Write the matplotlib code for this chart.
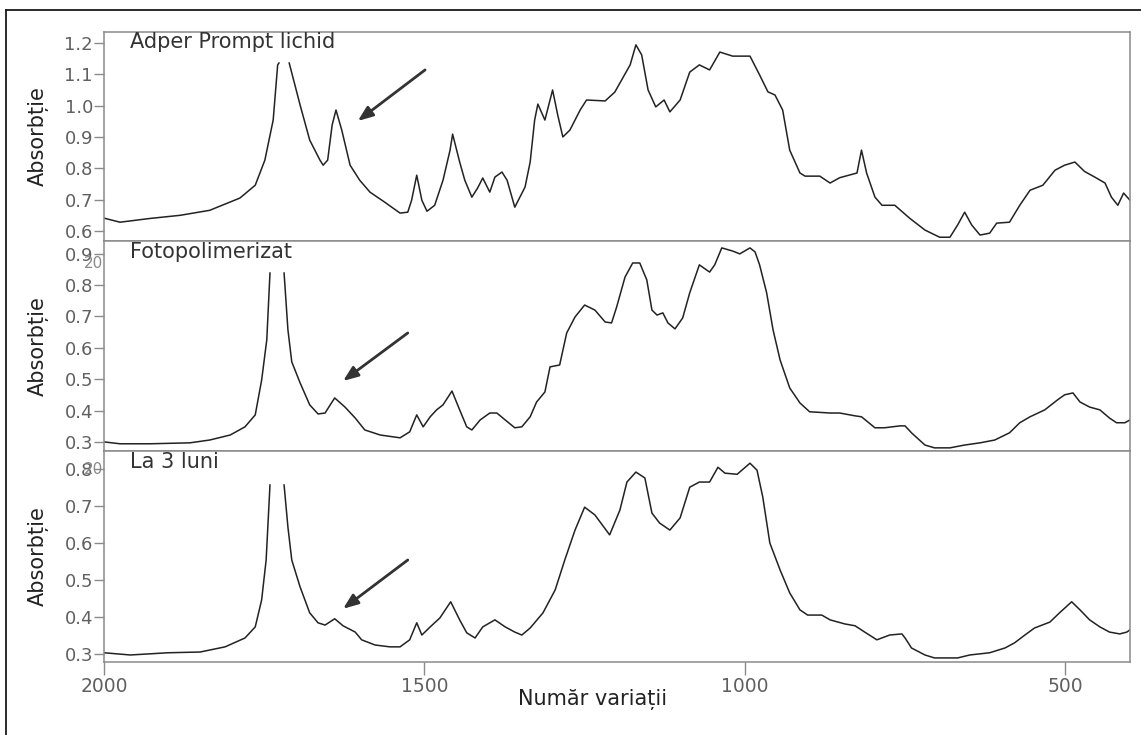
"""
Spectre FTIR Adper Prompt - trei panouri suprapuse, axa x inversata.
"""
import matplotlib
matplotlib.use("Agg")
import matplotlib.pyplot as plt
import numpy as np
from matplotlib.lines import Line2D

LINE_COL  = "#222222"
SPINE_COL = "#8a8a8a"
TICK_COL  = "#606060"

nan = np.nan

# --- Adper Prompt lichid -------------------------------------------------
lichid_wn = [2000, 1975, 1928, 1881, 1835, 1788, 1764, 1749, 1736, 1729, 1727, 1719, 1711,
             1694, 1679, 1663, 1658, 1651, 1644, 1638, 1629, 1616, 1601, 1585, 1562,
             1538, 1526, 1520, 1512, 1504, 1496, 1484, 1471, 1460, 1456, 1445, 1437,
             1426, 1417, 1409, 1398, 1390, 1379, 1371, 1359, 1343, 1335, 1328, 1323,
             1312, 1304, 1300, 1292, 1284, 1273, 1257, 1247, 1218, 1203, 1179, 1170,
             1161, 1151, 1139, 1126, 1117, 1101, 1086, 1071, 1055, 1039, 1019, 992,
             977, 964, 953, 941, 930, 914, 906, 883, 867, 852, 825, 818, 810, 797,
             786, 766, 743, 719, 696, 680, 668, 657, 646, 633, 618, 607, 587, 571,
             555, 535, 516, 501, 485, 470, 454, 438, 428, 418, 409, 399]
lichid_abs = [0.641, 0.628, 0.640, 0.650, 0.666, 0.705, 0.746, 0.826, 0.954, 1.130, 1.136, nan, 1.136,
              1.002, 0.890, 0.826, 0.810, 0.826, 0.938, 0.986, 0.922, 0.810, 0.762, 0.724, 0.692,
              0.657, 0.660, 0.698, 0.778, 0.698, 0.663, 0.682, 0.762, 0.858, 0.909, 0.820, 0.762,
              0.708, 0.737, 0.769, 0.724, 0.772, 0.788, 0.762, 0.676, 0.740, 0.820, 0.954, 1.005,
              0.954, 1.018, 1.050, 0.970, 0.900, 0.922, 0.986, 1.018, 1.015, 1.043, 1.130, 1.194,
              1.162, 1.050, 0.996, 1.018, 0.980, 1.018, 1.107, 1.130, 1.114, 1.171, 1.158, 1.158,
              1.098, 1.044, 1.034, 0.986, 0.858, 0.785, 0.775, 0.775, 0.753, 0.770, 0.785, 0.858, 0.785, 0.708,
              0.682, 0.682, 0.641, 0.603, 0.580, 0.580, 0.619, 0.660, 0.619, 0.587, 0.593, 0.625, 0.628, 0.682,
              0.730, 0.746, 0.794, 0.810, 0.820, 0.790, 0.772, 0.753, 0.708, 0.682, 0.721, 0.698]

# --- Fotopolimerizat -----------------------------------------------------
foto_wn = [2000, 1975, 1928, 1866, 1835, 1803, 1780, 1764, 1754, 1746, 1741, 1730, 1719,
           1713, 1707, 1694, 1679, 1666, 1655, 1647, 1640, 1624, 1608, 1593, 1569, 1538,
           1523, 1512, 1502, 1491, 1481, 1471, 1457, 1445, 1434, 1426, 1413, 1398, 1387,
           1374, 1359, 1348, 1335, 1325, 1312, 1304, 1289, 1278, 1265, 1250, 1234, 1218,
           1208, 1200, 1187, 1175, 1164, 1153, 1145, 1137, 1128, 1120, 1109, 1097, 1086,
           1071, 1055, 1047, 1036, 1019, 1008, 992, 984, 977, 966, 956, 945, 930, 914,
           899, 867, 852, 828, 818, 797, 782, 758, 750, 740, 719, 704, 680, 657, 633,
           610, 587, 571, 555, 532, 512, 501, 488, 477, 462, 446, 431, 420, 407, 399]
foto_abs = [0.300, 0.294, 0.294, 0.297, 0.306, 0.322, 0.348, 0.386, 0.497, 0.625, 0.838, nan, 0.838,
            0.657, 0.555, 0.488, 0.418, 0.389, 0.392, 0.418, 0.440, 0.411, 0.376, 0.338, 0.322, 0.313,
            0.332, 0.386, 0.348, 0.380, 0.402, 0.418, 0.462, 0.402, 0.348, 0.338, 0.370, 0.392, 0.392,
            0.370, 0.345, 0.348, 0.380, 0.427, 0.459, 0.539, 0.545, 0.647, 0.698, 0.736, 0.720, 0.682,
            0.679, 0.730, 0.825, 0.870, 0.870, 0.816, 0.720, 0.704, 0.711, 0.679, 0.660, 0.695, 0.775,
            0.864, 0.841, 0.864, 0.918, 0.908, 0.899, 0.918, 0.905, 0.864, 0.775, 0.657, 0.561, 0.472, 0.424,
            0.396, 0.392, 0.392, 0.383, 0.380, 0.345, 0.345, 0.351, 0.351, 0.329, 0.290, 0.281, 0.281, 0.290, 0.297,
            0.306, 0.329, 0.361, 0.380, 0.402, 0.434, 0.450, 0.456, 0.427, 0.411, 0.402, 0.376, 0.361, 0.361, 0.370]

# --- La 3 luni -----------------------------------------------------------
luni_wn = [2000, 1959, 1900, 1850, 1811, 1780, 1764, 1754, 1747, 1741, 1730, 1719,
           1713, 1707, 1694, 1679, 1666, 1655, 1640, 1627, 1608, 1598, 1577, 1554, 1538,
           1523, 1512, 1504, 1491, 1476, 1459, 1445, 1434, 1421, 1409, 1390, 1374, 1359,
           1348, 1335, 1315, 1296, 1281, 1265, 1250, 1234, 1211, 1195, 1184, 1170, 1156,
           1145, 1133, 1117, 1101, 1086, 1071, 1055, 1042, 1031, 1012, 992, 981, 972,
           961, 945, 930, 914, 902, 880, 867, 844, 828, 813, 794, 774, 755, 750, 740,
           719, 704, 668, 649, 618, 594, 579, 563, 548, 524, 509, 490, 477, 462, 446,
           431, 415, 404, 399]
luni_abs = [0.303, 0.297, 0.303, 0.305, 0.319, 0.343, 0.373, 0.446, 0.554, 0.757, nan, 0.757,
            0.643, 0.554, 0.481, 0.411, 0.384, 0.378, 0.395, 0.376, 0.359, 0.338, 0.324, 0.319, 0.319,
            0.338, 0.384, 0.351, 0.373, 0.397, 0.441, 0.392, 0.357, 0.343, 0.373, 0.392, 0.373, 0.359,
            0.351, 0.370, 0.411, 0.473, 0.554, 0.635, 0.697, 0.676, 0.622, 0.689, 0.765, 0.792, 0.776,
            0.681, 0.654, 0.635, 0.668, 0.751, 0.765, 0.765, 0.805, 0.789, 0.786, 0.816, 0.797, 0.724,
            0.600, 0.527, 0.465, 0.419, 0.405, 0.405, 0.392, 0.381, 0.376, 0.359, 0.338, 0.351, 0.354, 0.343, 0.316,
            0.297, 0.289, 0.289, 0.297, 0.303, 0.316, 0.330, 0.351, 0.370, 0.386, 0.411, 0.441, 0.419, 0.392, 0.373,
            0.359, 0.354, 0.359, 0.365]

titles  = ["Adper Prompt lichid", "Fotopolimerizat", "La 3 luni"]
series  = [(lichid_wn, lichid_abs), (foto_wn, foto_abs), (luni_wn, luni_abs)]
ylims   = [(0.568, 1.235), (0.271, 0.940), (0.278, 0.849)]
yticks  = [[0.6, 0.7, 0.8, 0.9, 1.0, 1.1, 1.2],
           [0.3, 0.4, 0.5, 0.6, 0.7, 0.8, 0.9],
           [0.3, 0.4, 0.5, 0.6, 0.7, 0.8]]
xticks  = [2000, 1500, 1000, 500]
# sagetile: (varf, coada) in coordonate de date
arrows  = [((1604, 0.951), (1499, 1.114)),
           ((1627, 0.494), (1526, 0.647)),
           ((1627, 0.422), (1526, 0.554))]

W, H = 1141, 735
fig = plt.figure(figsize=(W / 100, H / 100), dpi=100, facecolor="white")

# rama exterioara (doar stanga si sus sunt vizibile)
fig.add_artist(Line2D([6 / W, 6 / W], [0, 1 - 10 / H], color="#1a1a1a", lw=1.3))
fig.add_artist(Line2D([6 / W, 1], [1 - 10 / H, 1 - 10 / H], color="#1a1a1a", lw=1.3))

left, right = 104 / W, 1130 / W
bounds = [(32, 241), (241, 451), (451, 662)]

axes = []
for i, (top_px, bot_px) in enumerate(bounds):
    ax = fig.add_axes([left, 1 - bot_px / H, right - left, (bot_px - top_px) / H])
    wn, ab = series[i]
    ax.plot(wn, ab, color=LINE_COL, lw=1.1, solid_joinstyle="round")
    ax.set_xlim(2000, 399)
    ax.set_ylim(*ylims[i])
    ax.set_yticks(yticks[i])
    ax.set_yticklabels([f"{t:.1f}" for t in yticks[i]])
    ax.tick_params(axis="y", direction="out", length=7, width=1, color=SPINE_COL,
                   labelcolor=TICK_COL, labelsize=13, pad=1)
    for sp in ax.spines.values():
        sp.set_color(SPINE_COL)
        sp.set_linewidth(1.1)
    if i < 2:
        ax.set_xticks([])
    else:
        ax.set_xticks(xticks)
        ax.set_xticklabels([str(t) for t in xticks])
        ax.tick_params(axis="x", direction="out", length=9, width=1, color=SPINE_COL,
                       labelcolor=TICK_COL, labelsize=13.5, pad=2)
    ax.set_ylabel("Absorbție", fontsize=15, color="#222222", labelpad=11)
    ax.text(0.025, 0.95, titles[i], transform=ax.transAxes, fontsize=15,
            color="#333333", ha="left", va="center")
    (hx, hy), (tx, ty) = arrows[i]
    ax.annotate("", xy=(hx, hy), xytext=(tx, ty),
                arrowprops=dict(arrowstyle="-|>,head_length=0.9,head_width=0.35",
                                color="#333333", lw=2.0, shrinkA=0, shrinkB=0))
    axes.append(ax)

# fragmente "20" suprapuse peste etichetele de sus (artefact al originalului)
for ax, yv in [(axes[1], 0.868), (axes[2], 0.798)]:
    ax.text(-0.001, yv, "20", transform=ax.get_yaxis_transform(), fontsize=11,
            color="#8a8a8a", ha="right", va="center")

fig.text(593 / W, 1 - 700 / H, "Număr variații", fontsize=15, color="#222222",
         ha="center", va="center")

fig.savefig("out.png", dpi=100, facecolor=fig.get_facecolor())
